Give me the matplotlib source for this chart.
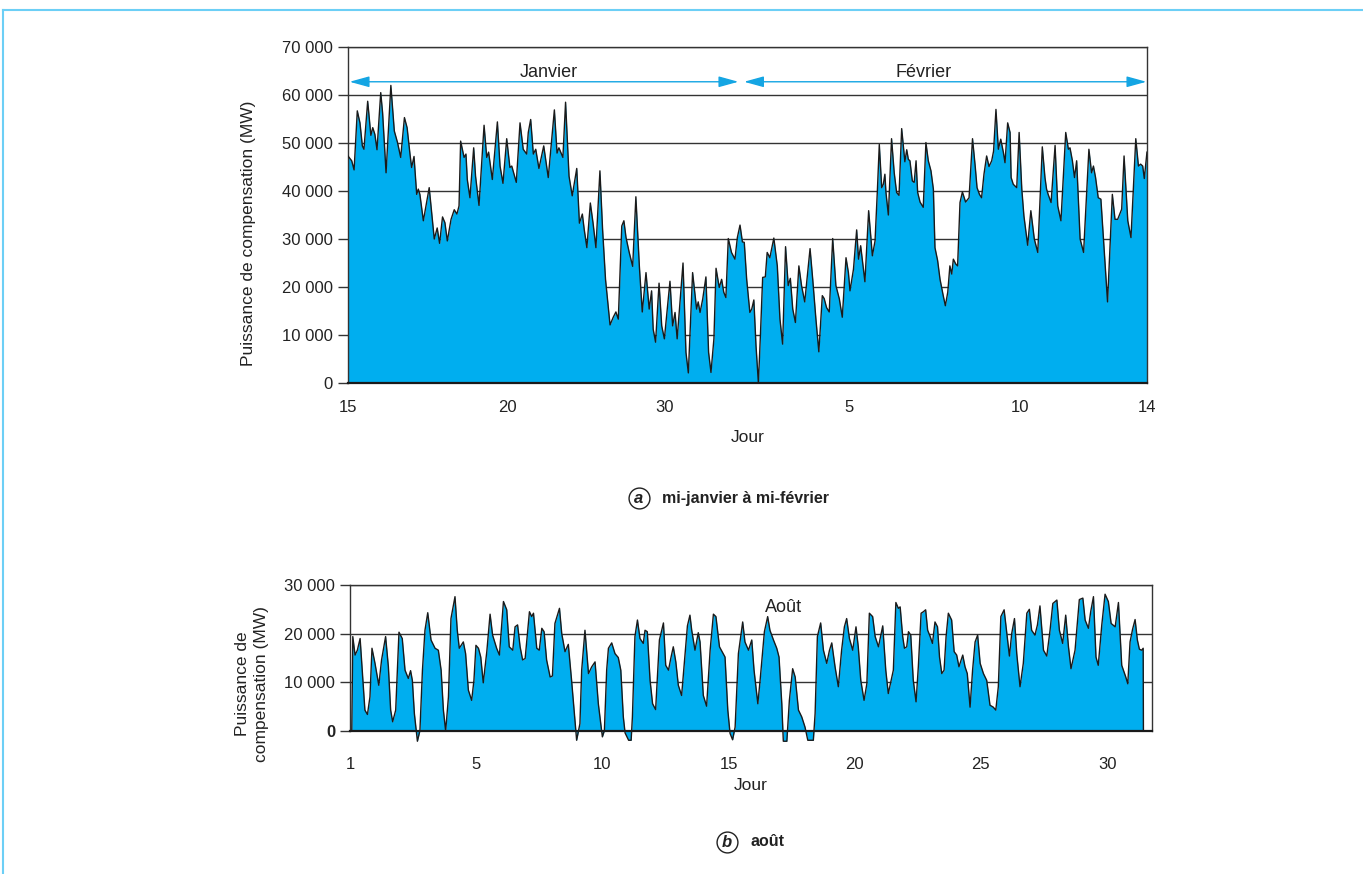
import matplotlib
matplotlib.use("Agg")
import matplotlib.pyplot as plt
from matplotlib.lines import Line2D

plt.rcParams['font.family'] = ['Liberation Sans', 'DejaVu Sans']

BLUE = '#00aeef'
ARROW = '#14a5e3'
INK = '#1a1a1a'
GRID = '#333333'

# (a) mi-janvier a mi-fevrier : jours depuis le 15 janvier, MW
jan_day = [0.00, 0.14, 0.23, 0.35, 0.45, 0.54, 0.60, 0.74, 0.86, 0.93, 1.01, 1.09, 1.23, 1.30, 1.43,
           1.61, 1.74, 1.86, 1.98, 2.12, 2.22, 2.33, 2.39, 2.48, 2.58, 2.64, 2.70, 2.83, 3.05, 3.24,
           3.35, 3.44, 3.55, 3.64, 3.73, 3.87, 3.99, 4.09, 4.17, 4.23, 4.36, 4.43, 4.48, 4.58, 4.72,
           4.79, 4.92, 5.11, 5.21, 5.28, 5.42, 5.61, 5.71, 5.82, 5.96, 6.08, 6.15, 6.32, 6.46, 6.58,
           6.71, 6.77, 6.86, 6.96, 7.05, 7.17, 7.35, 7.52, 7.75, 7.85, 7.92, 8.07, 8.17, 8.30, 8.42,
           8.59, 8.69, 8.80, 8.87, 8.97, 9.10, 9.20, 9.31, 9.46, 9.56, 9.67, 9.84, 9.96, 10.06, 10.15,
           10.28, 10.36, 10.44, 10.56, 10.69, 10.81, 10.94, 11.05, 11.19, 11.31, 11.40, 11.46, 11.55, 11.68, 11.78,
           11.88, 12.09, 12.19, 12.28, 12.36, 12.58, 12.69, 12.78, 12.94, 13.09, 13.15, 13.22, 13.32, 13.44, 13.54,
           13.63, 13.74, 13.82, 13.94, 14.03, 14.11, 14.19, 14.28, 14.40, 14.53, 14.62, 14.72, 14.81, 14.88, 14.97,
           15.09, 15.16, 15.24, 15.32, 15.41, 15.49, 15.57, 15.67, 15.74, 15.84, 15.99, 16.12, 16.22, 16.32, 16.43,
           16.53, 16.61, 16.70, 16.80, 16.93, 17.03, 17.15, 17.35, 17.45, 17.57, 17.68, 17.81, 17.88, 17.97, 18.07,
           18.20, 18.32, 18.45, 18.56, 18.70, 18.79, 18.85, 18.98, 19.10, 19.17, 19.25, 19.41, 19.55, 19.69, 19.79,
           19.88, 19.95, 20.04, 20.10, 20.16, 20.20, 20.29, 20.41, 20.51, 20.60, 20.69, 20.79, 20.91, 20.98, 21.04,
           21.10, 21.19, 21.26, 21.33, 21.39, 21.48, 21.60, 21.70, 21.79, 21.89, 21.98, 22.04, 22.14, 22.23, 22.35,
           22.43, 22.52, 22.60, 22.67, 22.73, 22.82, 22.89, 22.98, 23.07, 23.19, 23.32, 23.45, 23.55, 23.62, 23.71,
           23.79, 23.88, 23.98, 24.07, 24.17, 24.24, 24.33, 24.42, 24.51, 24.61, 24.67, 24.77, 24.86, 24.90, 24.98,
           25.11, 25.20, 25.30, 25.38, 25.52, 25.64, 25.77, 25.90, 26.07, 26.17, 26.23, 26.29, 26.40, 26.55, 26.65,
           26.77, 26.95, 27.05, 27.11, 27.20, 27.28, 27.36, 27.49, 27.62, 27.82, 27.92, 27.99, 28.07, 28.17, 28.27,
           28.40, 28.52, 28.70, 28.80, 28.90, 29.05, 29.14, 29.28, 29.40, 29.58, 29.68, 29.76, 29.84, 29.90, 30.00]
jan_mw = [47300, 46300, 44400, 56700, 54200, 49400, 48700, 58700, 51600, 53200, 51800, 48600, 60500, 56300, 43800,
          62000, 52500, 50100, 47000, 55300, 53200, 47600, 44900, 47200, 39300, 40400, 39300, 33800, 40700, 30000,
          32300, 29100, 34600, 33400, 29600, 34100, 36100, 35200, 36900, 50400, 47000, 47700, 42400, 38600, 49000,
          43100, 37000, 53700, 47000, 48100, 42400, 54400, 45200, 41600, 50900, 44900, 45200, 41800, 54200, 48700,
          47700, 52200, 54900, 47700, 48700, 44700, 49400, 42800, 56900, 47900, 49000, 47000, 58500, 43100, 39000,
          44700, 33300, 35200, 32000, 28200, 37500, 33400, 28200, 44200, 32000, 21600, 12100, 13700, 14800, 13300,
          32700, 33800, 30300, 27200, 24300, 38800, 24400, 14800, 23000, 15400, 19200, 11200, 8500, 20800, 11900,
          9200, 21200, 11900, 14700, 9200, 25000, 6400, 2100, 23000, 15400, 16900, 14700, 17500, 22100, 6400,
          2200, 9200, 23900, 19900, 21600, 18900, 17800, 30100, 27200, 25800, 30300, 32900, 29400, 29300, 21600,
          14700, 15400, 17300, 7800, 0, 10500, 22000, 22100, 27200, 26100, 30200, 24400, 13300, 8100, 28400,
          20300, 21800, 15400, 12600, 24400, 20300, 16900, 28000, 21600, 13300, 6500, 18200, 17600, 15700, 14800,
          30100, 20300, 17500, 13700, 26100, 23000, 19200, 23700, 31900, 25800, 28600, 21100, 35900, 26500, 29600,
          40400, 49700, 40700, 41400, 43500, 39700, 35000, 50900, 43800, 39700, 39100, 53000, 46100, 48600, 46600,
          46300, 42100, 41800, 46300, 39700, 37700, 36600, 50100, 46300, 44200, 40400, 28200, 25500, 21600, 18200,
          16100, 18900, 24400, 22700, 25800, 24800, 24400, 37600, 39800, 37700, 38600, 50900, 45200, 40700, 39300,
          38600, 43500, 47300, 45100, 46300, 48300, 57000, 48700, 50800, 48000, 45900, 54200, 52200, 42800, 41400,
          40700, 52200, 40400, 34800, 28700, 35900, 30000, 27200, 49200, 42800, 40400, 39300, 37600, 49500, 36900,
          33800, 52200, 48700, 49000, 46300, 42800, 46300, 30000, 27200, 48700, 43800, 45200, 42800, 38600, 38300,
          27200, 16900, 39300, 34100, 34100, 36200, 47300, 33800, 30300, 50900, 45200, 45600, 45200, 42600, 48100]

jan_tick_pos = [0, 6.0, 11.9, 18.8, 25.25, 30]
jan_tick_lab = ['15', '20', '30', '5', '10', '14']
y1_ticks = [0, 10000, 20000, 30000, 40000, 50000, 60000, 70000]
y1_labels = ['0', '10 000', '20 000', '30 000', '40 000', '50 000', '60 000', '70 000']

# (b) aout : jours, MW
aug_day = [0.07, 0.11, 0.20, 0.29, 0.40, 0.50, 0.59, 0.69, 0.79, 0.87, 0.99, 1.14, 1.25, 1.41, 1.52,
           1.61, 1.69, 1.81, 1.94, 2.07, 2.18, 2.31, 2.40, 2.47, 2.55, 2.67, 2.77, 2.87, 2.97, 3.08,
           3.21, 3.37, 3.50, 3.61, 3.70, 3.79, 3.90, 4.00, 4.16, 4.25, 4.33, 4.49, 4.58, 4.69, 4.82,
           4.91, 4.99, 5.09, 5.18, 5.28, 5.42, 5.55, 5.65, 5.81, 5.92, 6.08, 6.21, 6.31, 6.45, 6.54,
           6.64, 6.74, 6.84, 6.94, 7.11, 7.20, 7.27, 7.40, 7.50, 7.60, 7.69, 7.79, 7.93, 8.02, 8.12,
           8.30, 8.39, 8.52, 8.65, 8.78, 8.98, 9.11, 9.18, 9.31, 9.45, 9.58, 9.71, 9.84, 10.00, 10.08,
           10.17, 10.24, 10.37, 10.50, 10.63, 10.73, 10.83, 10.90, 11.04, 11.14, 11.19, 11.29, 11.39, 11.49, 11.62,
           11.69, 11.78, 11.89, 11.99, 12.11, 12.26, 12.42, 12.51, 12.62, 12.71, 12.81, 12.91, 13.01, 13.14, 13.28,
           13.37, 13.47, 13.54, 13.67, 13.80, 13.87, 14.00, 14.13, 14.27, 14.40, 14.50, 14.64, 14.86, 14.97, 15.06,
           15.16, 15.26, 15.39, 15.56, 15.65, 15.79, 15.92, 16.01, 16.16, 16.25, 16.42, 16.55, 16.64, 16.78, 16.91,
           17.00, 17.11, 17.17, 17.31, 17.41, 17.54, 17.64, 17.77, 17.90, 18.03, 18.14, 18.36, 18.43, 18.52, 18.65,
           18.76, 18.89, 19.00, 19.09, 19.22, 19.35, 19.48, 19.59, 19.68, 19.79, 19.92, 20.05, 20.14, 20.24, 20.37,
           20.48, 20.58, 20.71, 20.81, 20.94, 21.11, 21.23, 21.33, 21.53, 21.63, 21.73, 21.80, 21.90, 21.97, 22.06,
           22.13, 22.22, 22.32, 22.43, 22.52, 22.63, 22.72, 22.81, 22.89, 22.99, 23.08, 23.18, 23.28, 23.36, 23.45,
           23.54, 23.62, 23.71, 23.84, 23.94, 24.04, 24.13, 24.28, 24.37, 24.46, 24.57, 24.67, 24.77, 24.87, 24.97,
           25.10, 25.23, 25.36, 25.49, 25.59, 25.69, 25.79, 25.92, 26.02, 26.13, 26.22, 26.33, 26.42, 26.55, 26.68,
           26.82, 26.92, 27.01, 27.14, 27.24, 27.34, 27.48, 27.61, 27.74, 27.85, 28.01, 28.11, 28.24, 28.36, 28.47,
           28.57, 28.73, 28.90, 29.04, 29.13, 29.26, 29.35, 29.46, 29.56, 29.65, 29.79, 29.92, 30.05, 30.16, 30.32,
           30.45, 30.58, 30.74, 30.82, 30.91, 31.01, 31.11, 31.20, 31.28, 31.37, 31.43, 31.44]
aug_mw = [0, 19400, 15600, 16600, 19000, 11100, 4300, 3400, 7000, 17000, 13900, 9400, 14600, 19400, 13200,
          4300, 1900, 4300, 20300, 19000, 12500, 10800, 12400, 10400, 3600, -2100, 100, 12500, 20700, 24300,
          18700, 17000, 16600, 12500, 4300, 0, 7000, 23100, 27600, 20700, 17000, 18300, 15900, 8400, 6300,
          10400, 17600, 17000, 15200, 9900, 16300, 24000, 19700, 17000, 15600, 26600, 24900, 17300, 16600, 21400,
          21800, 17300, 14600, 14900, 24500, 23500, 24200, 17000, 16600, 21100, 20400, 14600, 11100, 11300, 22100,
          25200, 20000, 16300, 17800, 10400, -1900, 1500, 12500, 20700, 11800, 13200, 14200, 5600, -1200, 100,
          12500, 17000, 18100, 15900, 15100, 12500, 2900, -400, -1900, -1900, 2900, 19400, 22800, 19000, 18000,
          20700, 20400, 10400, 5600, 4400, 18700, 22200, 13500, 12500, 14900, 17300, 14200, 9400, 7300, 15900,
          21600, 23800, 20700, 16600, 20200, 18300, 7300, 5100, 16600, 24000, 23500, 17300, 15200, 4300, -500,
          -1800, 800, 15900, 22400, 18300, 16600, 18700, 12500, 5600, 10400, 20400, 23500, 20700, 18700, 17000,
          15200, 5600, -2100, -2100, 6300, 12800, 11100, 4300, 2900, 800, -1900, -1900, 3600, 19400, 22200,
          16600, 13900, 16600, 18100, 13200, 9100, 16600, 21400, 23100, 19000, 16600, 21400, 17300, 10400, 6300,
          9700, 24200, 23500, 19400, 17300, 21600, 12500, 7700, 12500, 26400, 25200, 25500, 19400, 17000, 17300,
          20400, 19700, 10400, 6000, 13200, 24200, 24500, 24900, 20700, 19400, 18000, 22400, 21400, 15200, 11800,
          12500, 19400, 24200, 22800, 16300, 15600, 13200, 15600, 13200, 11800, 4900, 12500, 18300, 19700, 13900,
          11800, 10400, 5300, 4900, 4300, 9100, 23500, 24900, 20400, 15400, 20000, 23100, 15900, 9100, 13900,
          24200, 25000, 20700, 19700, 21800, 25700, 16600, 15400, 20700, 26200, 26900, 20700, 18000, 23800, 17300,
          12800, 16600, 27000, 27300, 22800, 21100, 24500, 27600, 15200, 13500, 21800, 28100, 26600, 22100, 21400,
          26400, 13500, 11100, 9700, 18300, 20900, 22900, 18700, 16800, 16600, 17000, 0]

aug_tick_pos = [0, 5, 10, 15, 20, 25, 30]
aug_tick_lab = ['1', '5', '10', '15', '20', '25', '30']
y2_ticks = [0, 10000, 20000, 30000]
y2_labels = ['0', '10 000', '20 000', '30 000']

fig = plt.figure(figsize=(13.63, 8.74), dpi=100)


def style_axes(ax, xpad):
    ax.set_axisbelow(True)
    ax.yaxis.grid(True, color=GRID, lw=1.0)
    ax.xaxis.grid(False)
    for s in ax.spines.values():
        s.set_color(GRID)
        s.set_linewidth(1.0)
    ax.spines['bottom'].set_color(INK)
    ax.spines['bottom'].set_linewidth(1.6)
    ax.tick_params(axis='y', length=7.2, width=1.0, color=GRID, pad=3.5, labelsize=12, labelcolor='#222222')
    ax.tick_params(axis='x', length=0, pad=xpad, labelsize=12, labelcolor='#222222')


# ---- (a) ----
ax1 = fig.add_axes([0.2553, 0.5618, 0.5862, 0.3844])
ax1.fill_between(jan_day, jan_mw, 0, color=BLUE, lw=0, zorder=2)
ax1.plot(jan_day, jan_mw, color=INK, lw=1.0, zorder=3, solid_joinstyle='round')
ax1.set_xlim(0, 30)
ax1.set_ylim(0, 70000)
ax1.set_xticks(jan_tick_pos)
ax1.set_xticklabels(jan_tick_lab)
ax1.set_yticks(y1_ticks)
ax1.set_yticklabels(y1_labels)
style_axes(ax1, 12)

arrow_kw = dict(arrowstyle='<|-|>,head_length=0.8,head_width=0.22', color=ARROW, lw=1.0,
                shrinkA=0, shrinkB=0, mutation_scale=15)
ax1.annotate('', xy=(14.66, 62760), xytext=(0.06, 62760), arrowprops=arrow_kw, zorder=4)
ax1.annotate('', xy=(29.98, 62760), xytext=(14.87, 62760), arrowprops=arrow_kw, zorder=4)
ax1.text(7.54, 63800, 'Janvier', ha='center', va='baseline', fontsize=13, color='#222222')
ax1.text(21.6, 63800, 'Février', ha='center', va='baseline', fontsize=13, color='#222222')

fig.text(249 / 1363, 1 - 233 / 874, 'Puissance de compensation (MW)', rotation=90,
         ha='center', va='center', fontsize=12.5, color='#222222')
fig.text(747.5 / 1363, 1 - 437 / 874, 'Jour', ha='center', va='center', fontsize=12.5, color='#222222')

# ---- (b) ----
ax2 = fig.add_axes([0.2568, 0.1636, 0.5884, 0.1671])
ax2.fill_between(aug_day, aug_mw, 0, color=BLUE, lw=0, zorder=2, clip_on=False)
ax2.plot(aug_day, aug_mw, color=INK, lw=1.0, zorder=3, clip_on=False, solid_joinstyle='round')
ax2.set_xlim(0, 31.78)
ax2.set_ylim(0, 30000)
ax2.set_xticks(aug_tick_pos)
ax2.set_xticklabels(aug_tick_lab)
ax2.set_yticks(y2_ticks)
ax2.set_yticklabels(y2_labels)
style_axes(ax2, 19)
ax2.get_yticklabels()[0].set_fontweight('bold')
ax2.text(17.16, 24500, 'Août', ha='center', va='baseline', fontsize=13, color='#222222')

fig.text(252 / 1363, 1 - 684 / 874, 'Puissance de\ncompensation (MW)', rotation=90,
         ha='center', va='center', fontsize=12.5, linespacing=1.35, color='#222222')
fig.text(751 / 1363, 1 - 786 / 874, 'Jour', ha='center', va='center', fontsize=12.5, color='#222222')

# ---- legendes (a) et (b) ----
for cx, cy, letter, caption in [(639, 498, 'a', 'mi-janvier à mi-février'), (727, 842, 'b', 'août')]:
    fx, fy = cx / 1363, 1 - cy / 874
    fig.add_artist(Line2D([fx], [fy], transform=fig.transFigure, marker='o', ms=15,
                          mfc='none', mec='#222222', mew=1.0))
    fig.text(fx, fy - 0.001, letter, ha='center', va='center', fontsize=12,
             style='italic', weight='bold', color='#222222')
    fig.text(fx + 23 / 1363, fy, caption, ha='left', va='center', fontsize=11.5,
             weight='bold', color='#222222')

# cadre bleu clair
fig.add_artist(Line2D([3 / 1363, 1], [1 - 10 / 874, 1 - 10 / 874], transform=fig.transFigure,
                      color='#6ccff6', lw=1.5))
fig.add_artist(Line2D([3 / 1363, 3 / 1363], [0, 1 - 10 / 874], transform=fig.transFigure,
                      color='#6ccff6', lw=1.5))

fig.savefig('out.png', dpi=100)
